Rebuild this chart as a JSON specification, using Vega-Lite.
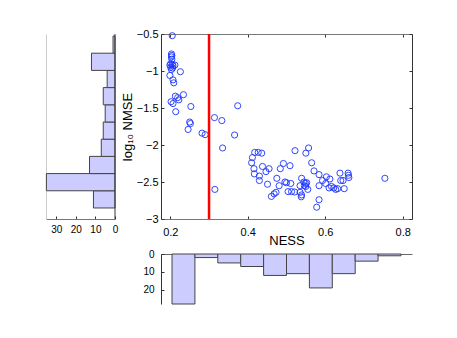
{
  "$schema": "https://vega.github.io/schema/vega-lite/v6.json",
  "background": "white",
  "padding": {"left": 45, "top": 28, "right": 5, "bottom": 5},
  "config": {
    "font": "Liberation Sans",
    "view": {"stroke": null},
    "axis": {"grid": false, "labelColor": "#000", "titleColor": "#000", "titleFontWeight": "normal", "labelFlush": false, "labelOverlap": false, "tickColor": "#333", "domainColor": "#444"}
  },
  "columns": 2,
  "bounds": "flush",
  "spacing": {"row": 35, "column": 46},
  "concat": [
    {
      "width": 69,
      "height": 185,
      "data": {"values": [
        {"lo": -2.851, "hi": -2.6186, "count": 11},
        {"lo": -2.6186, "hi": -2.3862, "count": 35},
        {"lo": -2.3862, "hi": -2.1538, "count": 13},
        {"lo": -2.1538, "hi": -1.9214, "count": 7},
        {"lo": -1.9214, "hi": -1.689, "count": 6},
        {"lo": -1.689, "hi": -1.4566, "count": 5},
        {"lo": -1.4566, "hi": -1.2242, "count": 6},
        {"lo": -1.2242, "hi": -0.9918, "count": 4},
        {"lo": -0.9918, "hi": -0.7594, "count": 12},
        {"lo": -0.7594, "hi": -0.527, "count": 1}
      ]},
      "layer": [
        {
          "mark": {"type": "rect", "fill": "#ccccff", "stroke": "#444", "strokeWidth": 1},
          "encoding": {
            "y": {"field": "lo", "type": "quantitative", "scale": {"domain": [-3, -0.5], "nice": false, "zero": false},
                  "axis": {"orient": "left", "labels": false, "ticks": false, "title": null, "domainColor": "#cccccc"}},
            "y2": {"field": "hi"},
            "x": {"field": "count", "type": "quantitative", "scale": {"domain": [0, 35.2], "reverse": true, "nice": false},
                  "axis": {"values": [0, 10, 20, 30], "tickSize": -3, "labelFontSize": 10, "labelPadding": 8, "title": null, "domainColor": "#777"}},
            "x2": {"datum": 0}
          }
        },
        {
          "data": {"values": [{"base": 0, "lo": -3, "hi": -0.5}]},
          "mark": {"type": "rule", "color": "#333", "strokeWidth": 1},
          "encoding": {
            "x": {"field": "base", "type": "quantitative",
                  "axis": {"values": [0, 10, 20, 30], "tickSize": -3, "labelFontSize": 10, "labelPadding": 8, "title": null, "domainColor": "#777"}},
            "y": {"field": "lo", "type": "quantitative",
                  "axis": {"orient": "left", "labels": false, "ticks": false, "title": null, "domainColor": "#cccccc"}},
            "y2": {"field": "hi"}
          }
        }
      ]
    },
    {
      "width": 251,
      "height": 185,
      "layer": [
        {
          "data": {"values": [
            {"ness": 0.205, "nmse": -0.523},
            {"ness": 0.203, "nmse": -0.77}, {"ness": 0.204, "nmse": -0.79}, {"ness": 0.203, "nmse": -0.81}, {"ness": 0.204, "nmse": -0.84},
            {"ness": 0.201, "nmse": -0.90}, {"ness": 0.205, "nmse": -0.91}, {"ness": 0.199, "nmse": -0.92}, {"ness": 0.207, "nmse": -0.93},
            {"ness": 0.212, "nmse": -0.92}, {"ness": 0.201, "nmse": -0.95}, {"ness": 0.206, "nmse": -0.96}, {"ness": 0.203, "nmse": -0.98},
            {"ness": 0.226, "nmse": -1.01}, {"ness": 0.199, "nmse": -1.06}, {"ness": 0.207, "nmse": -1.12}, {"ness": 0.209, "nmse": -1.16},
            {"ness": 0.234, "nmse": -1.32}, {"ness": 0.213, "nmse": -1.34}, {"ness": 0.219, "nmse": -1.36}, {"ness": 0.222, "nmse": -1.39},
            {"ness": 0.202, "nmse": -1.415}, {"ness": 0.207, "nmse": -1.44},
            {"ness": 0.253, "nmse": -1.48}, {"ness": 0.374, "nmse": -1.47}, {"ness": 0.214, "nmse": -1.55}, {"ness": 0.314, "nmse": -1.63}, {"ness": 0.333, "nmse": -1.67},
            {"ness": 0.250, "nmse": -1.69}, {"ness": 0.252, "nmse": -1.71}, {"ness": 0.246, "nmse": -1.79}, {"ness": 0.282, "nmse": -1.84}, {"ness": 0.290, "nmse": -1.86}, {"ness": 0.366, "nmse": -1.865},
            {"ness": 0.335, "nmse": -2.04}, {"ness": 0.522, "nmse": -2.077}, {"ness": 0.418, "nmse": -2.10}, {"ness": 0.427, "nmse": -2.10}, {"ness": 0.436, "nmse": -2.11}, {"ness": 0.550, "nmse": -2.11}, {"ness": 0.557, "nmse": -2.04},
            {"ness": 0.412, "nmse": -2.17}, {"ness": 0.410, "nmse": -2.24}, {"ness": 0.416, "nmse": -2.32}, {"ness": 0.438, "nmse": -2.29}, {"ness": 0.447, "nmse": -2.36}, {"ness": 0.455, "nmse": -2.32},
            {"ness": 0.484, "nmse": -2.32}, {"ness": 0.492, "nmse": -2.25}, {"ness": 0.509, "nmse": -2.28}, {"ness": 0.565, "nmse": -2.24}, {"ness": 0.571, "nmse": -2.35}, {"ness": 0.638, "nmse": -2.38}, {"ness": 0.659, "nmse": -2.38},
            {"ness": 0.417, "nmse": -2.39}, {"ness": 0.430, "nmse": -2.42}, {"ness": 0.430, "nmse": -2.48}, {"ness": 0.451, "nmse": -2.53}, {"ness": 0.475, "nmse": -2.45},
            {"ness": 0.481, "nmse": -2.55}, {"ness": 0.496, "nmse": -2.50}, {"ness": 0.500, "nmse": -2.51}, {"ness": 0.539, "nmse": -2.45}, {"ness": 0.546, "nmse": -2.55},
            {"ness": 0.549, "nmse": -2.52}, {"ness": 0.584, "nmse": -2.40}, {"ness": 0.593, "nmse": -2.48}, {"ness": 0.603, "nmse": -2.43}, {"ness": 0.612, "nmse": -2.46},
            {"ness": 0.601, "nmse": -2.52}, {"ness": 0.545, "nmse": -2.50}, {"ness": 0.552, "nmse": -2.51}, {"ness": 0.550, "nmse": -2.56}, {"ness": 0.555, "nmse": -2.60},
            {"ness": 0.535, "nmse": -2.55}, {"ness": 0.511, "nmse": -2.52}, {"ness": 0.584, "nmse": -2.55}, {"ness": 0.616, "nmse": -2.56}, {"ness": 0.622, "nmse": -2.58},
            {"ness": 0.627, "nmse": -2.60}, {"ness": 0.632, "nmse": -2.59}, {"ness": 0.640, "nmse": -2.48}, {"ness": 0.646, "nmse": -2.48}, {"ness": 0.649, "nmse": -2.59},
            {"ness": 0.661, "nmse": -2.44}, {"ness": 0.660, "nmse": -2.41}, {"ness": 0.754, "nmse": -2.45}, {"ness": 0.610, "nmse": -2.58}, {"ness": 0.315, "nmse": -2.60},
            {"ness": 0.504, "nmse": -2.63}, {"ness": 0.513, "nmse": -2.63}, {"ness": 0.521, "nmse": -2.635}, {"ness": 0.535, "nmse": -2.64}, {"ness": 0.539, "nmse": -2.675},
            {"ness": 0.461, "nmse": -2.695}, {"ness": 0.468, "nmse": -2.66}, {"ness": 0.473, "nmse": -2.64}, {"ness": 0.538, "nmse": -2.70}, {"ness": 0.584, "nmse": -2.74},
            {"ness": 0.578, "nmse": -2.84}
          ]},
          "mark": {"type": "point", "shape": "circle", "filled": false, "color": "#1a33ff", "size": 38, "strokeWidth": 0.9, "opacity": 1},
          "encoding": {
            "x": {"field": "ness", "type": "quantitative", "scale": {"domain": [0.176, 0.824], "nice": false, "zero": false},
                  "axis": {"orient": "bottom", "values": [0.2, 0.4, 0.6, 0.8], "format": ".1f", "tickSize": -3, "labelFontSize": 11, "labelPadding": 10,
                           "title": "NESS", "titleFontSize": 13, "titlePadding": -3, "domainColor": "#777"}},
            "y": {"field": "nmse", "type": "quantitative", "scale": {"domain": [-3, -0.5], "nice": false, "zero": false},
                  "axis": {"orient": "left", "values": [-3, -2.5, -2, -1.5, -1, -0.5], "format": "~g", "tickSize": -3, "labelFontSize": 11, "labelPadding": 6,
                           "title": "log₁₀ NMSE", "titleFontSize": 13, "titlePadding": 2, "domainColor": "#333"}}
          }
        },
        {
          "data": {"values": [{"ness": 0.3, "lo": -3, "hi": -0.5}]},
          "mark": {"type": "rule", "color": "#ff0000", "strokeWidth": 2.5},
          "encoding": {
            "x": {"field": "ness", "type": "quantitative",
                  "axis": {"orient": "top", "values": [0.2, 0.4, 0.6, 0.8], "labels": false, "tickSize": -3, "title": null, "domainColor": "#777"}},
            "y": {"field": "lo", "type": "quantitative",
                  "axis": {"orient": "right", "values": [-3, -2.5, -2, -1.5, -1, -0.5], "labels": false, "tickSize": -3, "title": null, "domainColor": "#333"}},
            "y2": {"field": "hi"}
          }
        }
      ],
      "resolve": {"axis": {"x": "independent", "y": "independent"}}
    },
    {
      "width": 69,
      "height": 50,
      "data": {"values": []},
      "mark": "point"
    },
    {
      "width": 251,
      "height": 50,
      "data": {"values": [
        {"lo": 0.199, "hi": 0.2545, "count": 28},
        {"lo": 0.2545, "hi": 0.31, "count": 2},
        {"lo": 0.31, "hi": 0.3655, "count": 5},
        {"lo": 0.3655, "hi": 0.421, "count": 7},
        {"lo": 0.421, "hi": 0.4765, "count": 12},
        {"lo": 0.4765, "hi": 0.532, "count": 11},
        {"lo": 0.532, "hi": 0.5875, "count": 19},
        {"lo": 0.5875, "hi": 0.643, "count": 11},
        {"lo": 0.643, "hi": 0.6985, "count": 4},
        {"lo": 0.6985, "hi": 0.754, "count": 1}
      ]},
      "mark": {"type": "rect", "fill": "#ccccff", "stroke": "#444", "strokeWidth": 1},
      "encoding": {
        "x": {"field": "lo", "type": "quantitative", "scale": {"domain": [0.1723, 0.7807], "nice": false, "zero": false},
              "axis": {"orient": "top", "labels": false, "ticks": false, "title": null, "domainColor": "#666"}},
        "x2": {"field": "hi"},
        "y": {"field": "count", "type": "quantitative", "scale": {"domain": [0, 28], "reverse": true, "nice": false},
              "axis": {"values": [0, 10, 20], "tickSize": -3, "labelFontSize": 10, "labelPadding": 10, "title": null, "domainColor": "#333"}},
        "y2": {"datum": 0}
      }
    }
  ]
}
